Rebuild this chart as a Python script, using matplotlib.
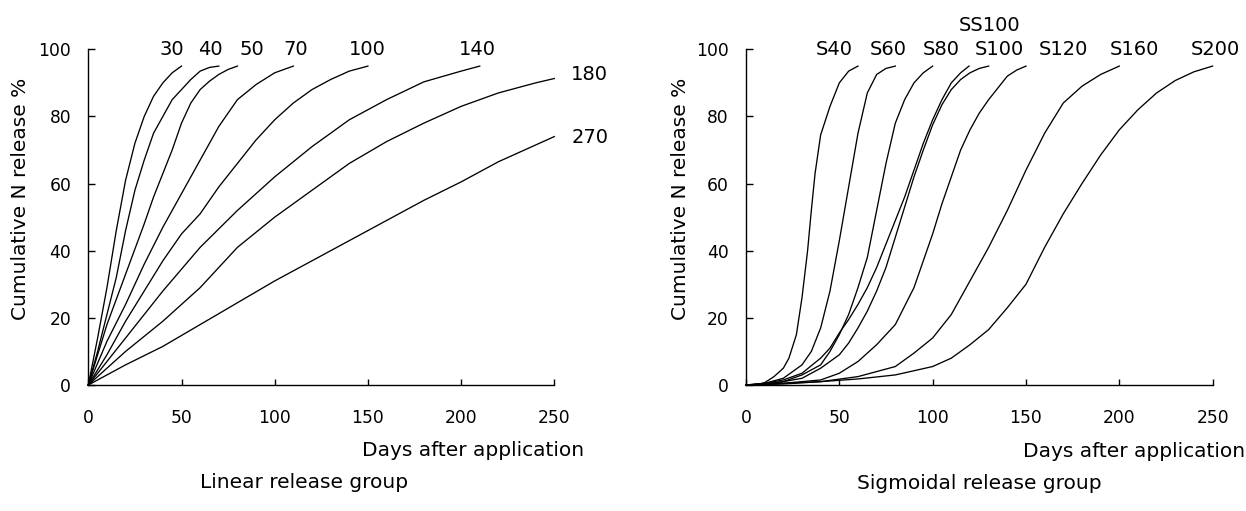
import matplotlib
matplotlib.use("Agg")
import matplotlib.pyplot as plt

# linear release group (days, cumulative N release %)
days_30 = [0, 5, 10, 15, 20, 25, 30, 35, 40, 45, 50]
n_30 = [0, 14, 29, 46, 61, 72, 80, 86, 90, 93, 95]
days_40 = [0, 5, 10, 15, 20, 25, 30, 35, 40, 45, 50, 55, 60, 65, 70]
n_40 = [0, 10, 21, 32, 46, 58, 67, 75, 80, 85, 88, 91, 93.5, 94.6, 95]
days_50 = [0, 10, 20, 30, 35, 40, 45, 50, 55, 60, 65, 70, 75, 80]
n_50 = [0, 18, 33, 48, 56, 63, 70, 78, 84, 88, 90.5, 92.5, 94, 95]
days_70 = [0, 10, 20, 30, 40, 50, 60, 70, 80, 90, 100, 110]
n_70 = [0, 13, 24, 36, 47, 57, 67, 77, 85, 89.5, 93, 95]
days_100 = [0, 10, 20, 30, 40, 50, 60, 70, 80, 90, 100, 110, 120, 130, 140, 150]
n_100 = [0, 9, 19, 28, 37, 45, 51, 59, 66, 73, 79, 84, 88, 91, 93.5, 95]
days_140 = [0, 20, 40, 60, 80, 100, 120, 140, 160, 180, 200, 210]
n_140 = [0, 14, 28, 41, 52, 62, 71, 79, 85, 90.3, 93.5, 95]
days_180 = [0, 20, 40, 60, 80, 100, 120, 140, 160, 180, 200, 220, 240, 250]
n_180 = [0, 10, 19, 29, 41, 50, 58, 66, 72.5, 78, 83, 87, 90, 91.3]
days_270 = [0, 20, 40, 60, 80, 100, 120, 140, 160, 180, 200, 220, 240, 250]
n_270 = [0, 6, 11.5, 18, 24.5, 31, 37, 43, 49, 55, 60.5, 66.5, 71.5, 74]

linear_names = ["30", "40", "50", "70", "100", "140", "180", "270"]
linear_days = [days_30, days_40, days_50, days_70, days_100, days_140, days_180, days_270]
linear_n = [n_30, n_40, n_50, n_70, n_100, n_140, n_180, n_270]

# sigmoidal release group
days_s40 = [0, 5, 10, 15, 20, 23, 27, 30, 33, 35, 37, 40, 45, 50, 55, 60]
n_s40 = [0, 0, 0.7, 2.5, 5, 8, 15, 26, 40, 52, 63, 74.5, 83, 90, 93.5, 95]
days_s60 = [0, 10, 20, 30, 35, 40, 45, 50, 55, 60, 65, 70, 75, 80]
n_s60 = [0, 0.5, 2, 6, 10, 17, 28, 43, 59, 75, 87, 92.5, 94.3, 95]
days_s80 = [0, 10, 20, 30, 40, 45, 50, 55, 60, 65, 70, 75, 80, 85, 90, 95, 100]
n_s80 = [0, 0.3, 1, 3, 6, 10, 15, 21, 29, 38, 52, 66, 78, 85, 90, 93, 95]
days_ss100 = [0, 10, 20, 30, 40, 45, 50, 55, 60, 65, 70, 75, 80, 85, 90, 95, 100, 105, 110, 115, 119.5]
n_ss100 = [0, 0.5, 1.5, 3.5, 8, 11, 15.5, 19.5, 24, 29, 35, 42, 49, 56, 64, 72, 79, 85, 90, 93, 95]
days_s100 = [0, 10, 20, 30, 40, 50, 55, 60, 65, 70, 75, 80, 85, 90, 95, 100, 105, 110, 115, 120, 125, 130]
n_s100 = [0, 0.3, 1, 2, 5, 9, 12.5, 17, 22, 28, 35, 44, 53, 62, 70, 77.5, 83.5, 88, 91, 93, 94.3, 95]
days_s120 = [0, 20, 40, 50, 60, 70, 80, 90, 95, 100, 105, 110, 115, 120, 125, 130, 135, 140, 145, 150]
n_s120 = [0, 0.5, 1.5, 3.5, 7, 12, 18, 29, 37, 45, 54, 62, 70, 76, 81, 85, 88.5, 92, 93.8, 95]
days_s160 = [0, 40, 60, 80, 90, 100, 110, 120, 130, 140, 150, 160, 170, 180, 190, 200]
n_s160 = [0, 1, 2.5, 5.5, 9.5, 14, 21, 31, 41, 52, 64, 75, 84, 89, 92.5, 95]
days_s200 = [0, 20, 40, 60, 80, 100, 110, 120, 130, 140, 150, 160, 170, 180, 190, 200, 210, 220, 230, 240, 250]
n_s200 = [0, 0.3, 1, 1.8, 3, 5.5, 8, 12, 16.5, 23, 30, 41, 51, 60, 68.5, 76, 82, 87, 90.7, 93.3, 95]

sigmoid_names = ["S40", "S60", "S80", "SS100", "S100", "S120", "S160", "S200"]
sigmoid_days = [days_s40, days_s60, days_s80, days_ss100, days_s100, days_s120, days_s160, days_s200]
sigmoid_n = [n_s40, n_s60, n_s80, n_ss100, n_s100, n_s120, n_s160, n_s200]

# where the curve names sit (data coords)
linear_label_x = [44.6, 65.7, 88, 111, 149.6, 208.7, 269, 269]
linear_label_y = [100, 100, 100, 100, 100, 100, 92.6, 73.7]
sigmoid_label_x = [47.3, 76, 104.4, 130.7, 135.5, 170, 208, 251.3]
sigmoid_label_y = [100, 100, 100, 107.2, 100, 100, 100, 100]

x_ticks = [0, 50, 100, 150, 200, 250]
y_ticks = [0, 20, 40, 60, 80, 100]

W, H = 1246, 511
fig = plt.figure(figsize=(W / 100, H / 100), dpi=100)


def setup_axes(ax):
    ax.set_xlim(0, 250)
    ax.set_ylim(0, 100)
    ax.set_xticks(x_ticks)
    ax.set_yticks(y_ticks)
    ax.spines["top"].set_visible(False)
    ax.spines["right"].set_visible(False)
    ax.spines["left"].set_linewidth(1.0)
    ax.spines["bottom"].set_linewidth(1.0)
    ax.tick_params(axis="x", direction="in", length=4.5, width=1.0, pad=17, labelsize=12.3)
    ax.tick_params(axis="y", direction="in", length=4.8, width=1.0, pad=12.3, labelsize=12.3)


def draw_group(ax, days, values, names, lx, ly):
    for d, v in zip(days, values):
        ax.plot(d, v, color="black", lw=0.95, clip_on=False)
    for name, x, y in zip(names, lx, ly):
        ax.text(x, y, name, ha="center", va="center", fontsize=14, clip_on=False)


ax1 = fig.add_axes([88.3 / W, 1 - 385 / H, (554.3 - 88.3) / W, (385 - 49.3) / H])
setup_axes(ax1)
draw_group(ax1, linear_days, linear_n, linear_names, linear_label_x, linear_label_y)

ax2 = fig.add_axes([746 / W, 1 - 385 / H, (1212.6 - 746) / W, (385 - 49.3) / H])
setup_axes(ax2)
draw_group(ax2, sigmoid_days, sigmoid_n, sigmoid_names, sigmoid_label_x, sigmoid_label_y)

# axis titles and group captions
for x in [21, 680]:
    fig.text(x / W, 1 - 199 / H, "Cumulative N release %", rotation=90,
             ha="center", va="center", fontsize=14.5)
fig.text(584 / W, 1 - 456 / H, "Days after application", ha="right", va="baseline", fontsize=14.5)
fig.text(1245 / W, 1 - 457 / H, "Days after application", ha="right", va="baseline", fontsize=14.5)
fig.text(304 / W, 1 - 487.5 / H, "Linear release group", ha="center", va="baseline", fontsize=14.5)
fig.text(979 / W, 1 - 488.5 / H, "Sigmoidal release group", ha="center", va="baseline", fontsize=14.5)

fig.savefig("out.png", dpi=100)
